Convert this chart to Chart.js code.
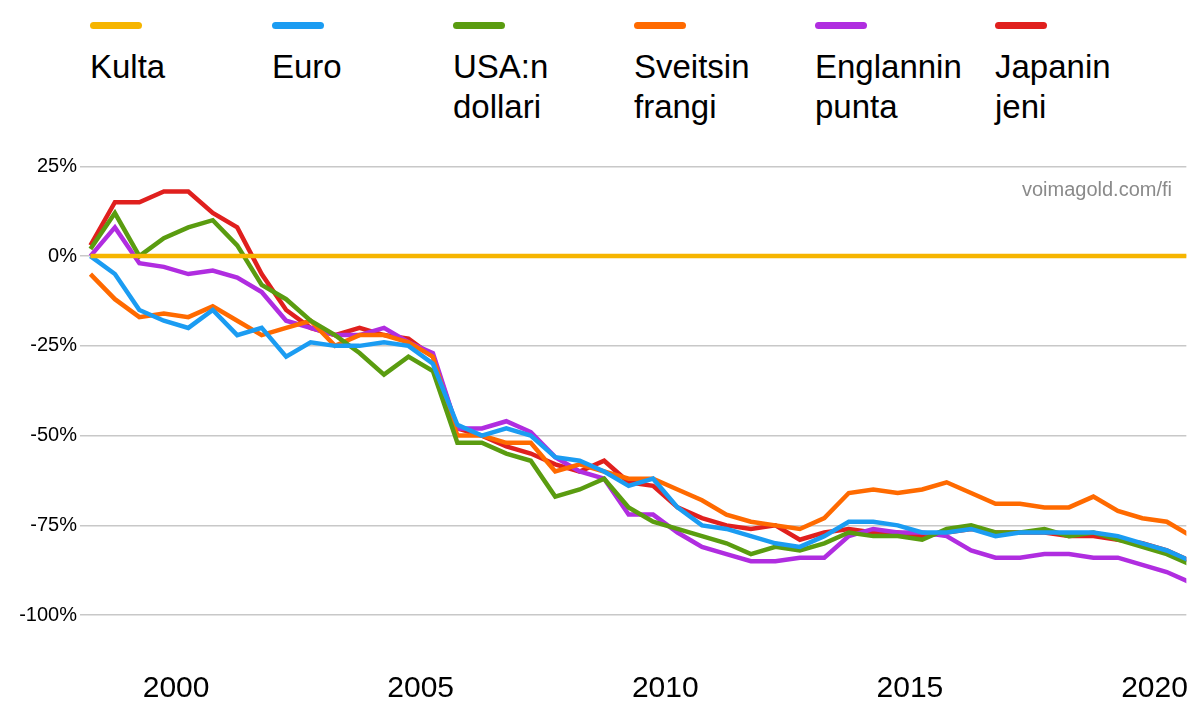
<!DOCTYPE html>
<html><head><meta charset="utf-8">
<script src="https://cdn.jsdelivr.net/npm/chart.js@4/dist/chart.umd.min.js"></script>
<style>
body{margin:0;width:1200px;height:719px;background:#fff;font-family:"Liberation Sans",Helvetica,Arial,sans-serif;position:relative;overflow:hidden}
#legend{position:absolute;left:0;top:0;width:1200px;height:130px}
.item{position:absolute;top:22px}
.mk{width:52px;height:7px;border-radius:4px}
.lb{font-size:33px;line-height:40px;margin-top:18px;color:#000}
#wm{position:absolute;right:28px;top:178px;font-size:20px;color:#8a8a8a}
#wrap{position:absolute;left:0;top:137px;width:1200px;height:582px}
</style></head><body>
<div id="legend"></div>
<div id="wrap"><canvas id="c"></canvas></div>
<div id="wm">voimagold.com/fi</div>
<script>
const names=[["Kulta"],["Euro"],["USA:n","dollari"],["Sveitsin","frangi"],["Englannin","punta"],["Japanin","jeni"]];
const colors=["#f6b500","#1b9cf2","#5a9c10","#ff6a00","#b02de0","#e0201e"];
const years=[];for(let k=0;k<46;k++)years.push(1998.25+0.5*k);
const kulta=years.map(()=>0);
const euro=[0,-5,-15,-18,-20,-15,-22,-20,-28,-24,-25,-25,-24,-25,-30,-47,-50,-48,-50,-56,-57,-60,-64,-62,-70,-75,-76,-78,-80,-81,-78,-74,-74,-75,-77,-77,-76,-78,-77,-77,-77,-77,-78,-80,-82,-85];
const usd=[2,12,0,5,8,10,3,-8,-12,-18,-22,-27,-33,-28,-32,-52,-52,-55,-57,-67,-65,-62,-70,-74,-76,-78,-80,-83,-81,-82,-80,-77,-78,-78,-79,-76,-75,-77,-77,-76,-78,-77,-79,-81,-83,-86];
const chf=[-5,-12,-17,-16,-17,-14,-18,-22,-20,-18,-25,-22,-22,-24,-28,-50,-50,-52,-52,-60,-58,-60,-62,-62,-65,-68,-72,-74,-75,-76,-73,-66,-65,-66,-65,-63,-66,-69,-69,-70,-70,-67,-71,-73,-74,-78];
const gbp=[0,8,-2,-3,-5,-4,-6,-10,-18,-20,-22,-22,-20,-24,-27,-48,-48,-46,-49,-56,-60,-62,-72,-72,-77,-81,-83,-85,-85,-84,-84,-78,-76,-77,-77,-78,-82,-84,-84,-83,-83,-84,-84,-86,-88,-91];
const jpy=[3,15,15,18,18,12,8,-5,-15,-20,-22,-20,-22,-23,-28,-48,-50,-53,-55,-58,-60,-57,-63,-64,-70,-73,-75,-76,-75,-79,-77,-76,-77,-77,-78,-77,-76,-77,-77,-77,-78,-78,-79,-80,-82,-85];
const xTicks=[2000,2005,2010,2015,2020];
const yTicks=[-100,-75,-50,-25,0,25];
const series=[kulta,euro,usd,chf,gbp,jpy];
const lx=[90,272,453,634,815,995];
const lg=document.getElementById('legend');
names.forEach((n,i)=>{const d=document.createElement('div');d.className='item';d.style.left=lx[i]+'px';
d.innerHTML='<div class="mk" style="background:'+colors[i]+'"></div><div class="lb">'+n.join('<br>')+'</div>';lg.appendChild(d);});
new Chart(document.getElementById('c'),{type:'line',
data:{datasets:series.map((s,i)=>({label:names[i].join(' '),data:s.map((v,j)=>({x:years[j],y:v})),borderColor:colors[i],borderWidth:4.5,pointRadius:0,tension:0}))},
options:{responsive:true,maintainAspectRatio:false,animation:false,
layout:{padding:{right:3}},
plugins:{legend:{display:false},tooltip:{enabled:false}},
scales:{
x:{type:'linear',min:1998.2,max:2020.65,grid:{display:false},border:{display:false},
afterBuildTicks:a=>{a.ticks=xTicks.map(v=>({value:v}))},
ticks:{font:{size:30},color:'#000',autoSkip:false,maxRotation:0,padding:12,callback:v=>String(v)}},
y:{min:-110,max:29,grid:{color:'#c8c8c8',lineWidth:1.5},border:{display:false},
afterBuildTicks:a=>{a.ticks=yTicks.map(v=>({value:v}))},
afterFit:a=>{a.width=88},
ticks:{font:{size:20},color:'#000',callback:v=>v+'%'}}}}});
</script></body></html>
